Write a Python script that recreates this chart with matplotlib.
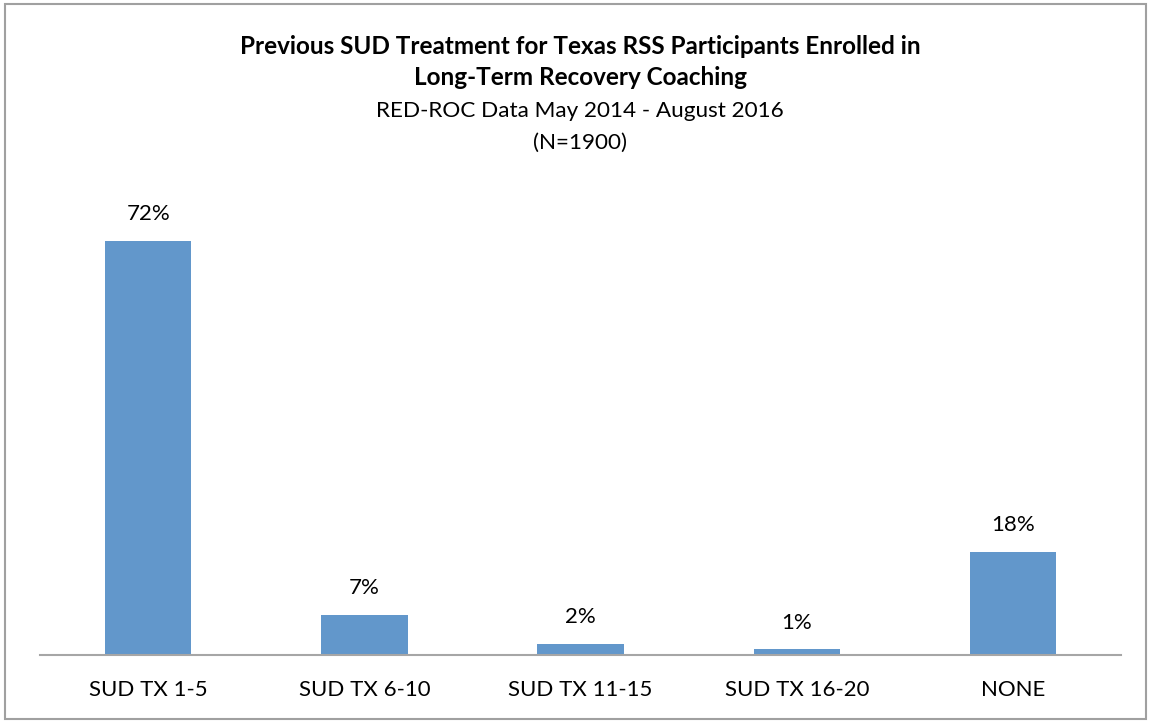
import matplotlib.pyplot as plt
from matplotlib.patches import Rectangle

plt.rcParams['font.family'] = ['Lato', 'DejaVu Sans']

categories = ['SUD TX 1-5', 'SUD TX 6-10', 'SUD TX 11-15', 'SUD TX 16-20', 'NONE']
percents = [72, 7, 2, 1, 18]

fig = plt.figure(figsize=(11.51, 7.21), dpi=100)
ax = fig.add_axes([0.0348, 0.0915, 0.9392, 0.638])

x = range(len(categories))
bars = ax.bar(x, percents, width=0.40, color='#6297CB')
for xi, v in zip(x, percents):
    ax.annotate(f'{v}%', (xi, v), xytext=(0, 12), textcoords='offset points',
                ha='center', va='bottom', fontsize=16)

ax.set_xlim(-0.5, len(categories) - 0.5)
ax.set_ylim(0, 80)
ax.set_xticks(list(x))
ax.set_xticklabels(categories, fontsize=16)
ax.tick_params(axis='x', length=0, pad=18)
ax.set_yticks([])
for s in ['left', 'right', 'top']:
    ax.spines[s].set_visible(False)
ax.spines['bottom'].set_color('#A6A6A6')
ax.spines['bottom'].set_linewidth(1.5)

fig.text(0.504, 0.935, 'Previous SUD Treatment for Texas RSS Participants Enrolled in',
         ha='center', va='center', fontsize=17.5, fontweight='bold')
fig.text(0.504, 0.892, 'Long-Term Recovery Coaching',
         ha='center', va='center', fontsize=17.5, fontweight='bold')
fig.text(0.504, 0.846, 'RED-ROC Data May 2014 - August 2016',
         ha='center', va='center', fontsize=16.2)
fig.text(0.504, 0.802, '(N=1900)', ha='center', va='center', fontsize=16.2)

fig.patches.append(Rectangle((0.004, 0.003), 0.992, 0.992, transform=fig.transFigure,
                             fill=False, edgecolor='#A0A0A0', linewidth=1.5))

fig.savefig('out.png', dpi=100)
